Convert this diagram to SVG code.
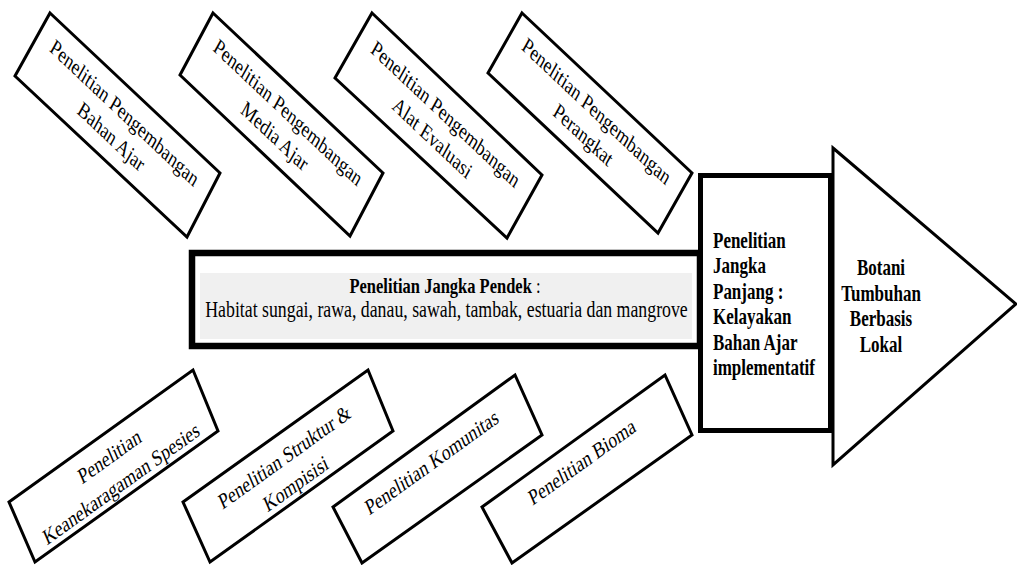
<svg xmlns="http://www.w3.org/2000/svg" width="1017" height="565" viewBox="0 0 1017 565">
<style>
.box{fill:#fff;stroke:#000;stroke-width:3;stroke-linejoin:miter}
.t{font-family:"Liberation Serif","Times New Roman",serif;font-size:17.3px;fill:#000;text-anchor:middle}
.b{font-family:"Liberation Serif","Times New Roman",serif;font-size:17px;font-weight:bold;fill:#000}
</style>
<rect width="1017" height="565" fill="#fff"/>
<g id="connectors"/>
<g id="top1">
<polygon class="box" points="50,13 220,173 187,237 15,76"/>
<g transform="translate(118,124.75) scale(1,1.3) rotate(36)">
<text class="t" x="0" y="-5.5">Penelitian Pengembangan</text>
<text class="t" x="0" y="17">Bahan Ajar</text>
</g>
</g>
<g id="top2">
<polygon class="box" points="213,13 383,173 350,236 180,75"/>
<g transform="translate(281.5,124.25) scale(1,1.3) rotate(36)">
<text class="t" x="0" y="-5.5">Penelitian Pengembangan</text>
<text class="t" x="0" y="17">Media Ajar</text>
</g>
</g>
<g id="top3">
<polygon class="box" points="372,13 542,175 507,238 335,78"/>
<g transform="translate(439,126) scale(1,1.3) rotate(36)">
<text class="t" x="0" y="-5.5">Penelitian Pengembangan</text>
<text class="t" x="0" y="17">Alat Evaluasi</text>
</g>
</g>
<g id="top4">
<polygon class="box" points="522,13 692,173 658,233 488,73"/>
<g transform="translate(590,123) scale(1,1.3) rotate(36)">
<text class="t" x="0" y="-5.5">Penelitian Pengembangan</text>
<text class="t" x="0" y="17">Perangkat</text>
</g>
</g>
<g id="bottom1">
<polygon class="box" points="9,502 193,370 218,431 35,562"/>
<g transform="translate(113.75,466.25) scale(1,1.3) rotate(-29)">
<text class="t" x="0" y="-3">Penelitian</text>
<text class="t" x="0" y="21">Keanekaragaman Spesies</text>
</g>
</g>
<g id="bottom2">
<polygon class="box" points="183,502 368,370 393,431 210,562"/>
<g transform="translate(288.5,466.25) scale(1,1.3) rotate(-29)">
<text class="t" x="0" y="-2.5">Penelitian Struktur &amp;</text>
<text class="t" x="0" y="21">Kompisisi</text>
</g>
</g>
<g id="bottom3">
<polygon class="box" points="333,507 515,375 542,435 362,563"/>
<g transform="translate(438,470) scale(1,1.3) rotate(-29)">
<text class="t" x="-2.5" y="-2.5">Penelitian Komunitas</text>
</g>
</g>
<g id="bottom4">
<polygon class="box" points="482,507 665,375 692,435 512,563"/>
<g transform="translate(587.75,470) scale(1,1.3) rotate(-29)">
<text class="t" x="-2" y="-2.5">Penelitian Bioma</text>
</g>
</g>
<g id="short-term">
<rect x="192" y="253" width="508" height="93" fill="#fff" stroke="#000" stroke-width="6.5"/>
<rect x="200" y="273" width="492" height="66" fill="#f0f0f0"/>
<text class="t" transform="translate(445,293.3) scale(1,1.3)" x="0" y="0" style="font-size:16.5px"><tspan font-weight="bold">Penelitian Jangka Pendek</tspan> :</text>
<text class="t" transform="translate(446.5,317) scale(1,1.3)" x="0" y="0" style="font-size:17.8px">Habitat sungai, rawa, danau, sawah, tambak, estuaria dan mangrove</text>
</g>
<g id="long-term">
<rect x="700.5" y="175.5" width="130" height="255" fill="#fff" stroke="#000" stroke-width="5"/>
<text class="b" transform="translate(713,248) scale(1,1.3)">Penelitian</text>
<text class="b" transform="translate(713,273.4) scale(1,1.3)">Jangka</text>
<text class="b" transform="translate(713,298.8) scale(1,1.3)">Panjang :</text>
<text class="b" transform="translate(713,324.2) scale(1,1.3)">Kelayakan</text>
<text class="b" transform="translate(713,349.6) scale(1,1.3)">Bahan Ajar</text>
<text class="b" transform="translate(713,375) scale(1,1.3)">implementatif</text>
</g>
<g id="goal">
<polygon points="833,148 1016,304 833,465" fill="#fff" stroke="#000" stroke-width="3" stroke-linejoin="miter"/>
<text class="b" text-anchor="middle" transform="translate(881,275) scale(1,1.3)">Botani</text>
<text class="b" text-anchor="middle" transform="translate(881,300.5) scale(1,1.3)">Tumbuhan</text>
<text class="b" text-anchor="middle" transform="translate(881,326) scale(1,1.3)">Berbasis</text>
<text class="b" text-anchor="middle" transform="translate(881,351.5) scale(1,1.3)">Lokal</text>
</g>
</svg>
